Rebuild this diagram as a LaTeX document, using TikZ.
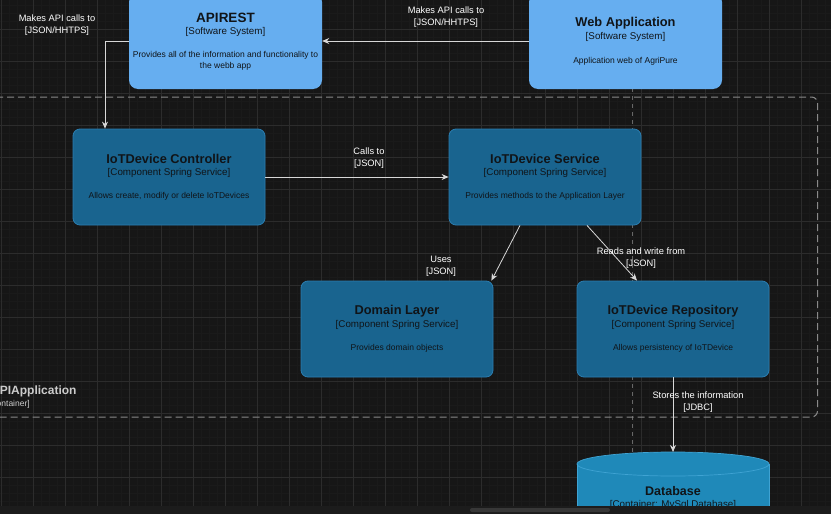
\documentclass[tikz,border=0pt]{standalone}
\usepackage{fontspec}
\setmainfont{Liberation Sans}
\usetikzlibrary{arrows.meta}
\definecolor{bgc}{HTML}{161616}
\definecolor{minorc}{HTML}{1A1A1A}
\definecolor{majorc}{HTML}{2C2C2C}
\definecolor{sysfill}{HTML}{66AEF0}
\definecolor{compfill}{HTML}{19648F}
\definecolor{compline}{HTML}{2B7DB0}
\definecolor{dbfill}{HTML}{1F89B9}
\definecolor{dbline}{HTML}{3FA3D3}
\definecolor{arrc}{HTML}{D8D8D8}
\definecolor{bndc}{HTML}{8A8A8A}
\definecolor{txtdark}{HTML}{101418}
\definecolor{barc}{HTML}{1C1C1C}
\definecolor{thumbc}{HTML}{373737}
\tikzset{
  sysbox/.style={fill=sysfill, rounded corners=9pt, minimum width=193pt, minimum height=96pt, inner sep=0pt},
  compbox/.style={fill=compfill, draw=compline, line width=0.8pt, rounded corners=7pt, minimum width=192pt, minimum height=96pt, inner sep=0pt},
  ttl/.style={font=\bfseries\fontsize{12.8}{14}\selectfont, text=txtdark, inner sep=0pt},
  typ/.style={font=\fontsize{9.8}{11}\selectfont, text=txtdark, inner sep=0pt},
  dsc/.style={font=\fontsize{8.5}{11}\selectfont, text=txtdark, inner sep=0pt, align=center},
  lbl/.style={font=\fontsize{9.3}{12}\selectfont, text=white, inner sep=0pt, align=center},
  conn/.style={draw=arrc, line width=0.8pt, -{Stealth[length=7pt,width=6pt]}},
}
\begin{document}
\begin{tikzpicture}[x=1pt,y=-1pt]
\useasboundingbox (0,0) rectangle (831,514);
\fill[bgc] (0,0) rectangle (831,514);
\begin{scope}
\clip (0,0) rectangle (831,506);
% grid
\foreach \x in {1.5,9.5,...,831} \draw[minorc, line width=0.6pt] (\x,0) -- (\x,506);
\foreach \y in {5,13,...,506} \draw[minorc, line width=0.6pt] (0,\y) -- (831,\y);
\foreach \x in {1.5,33.5,...,831} \draw[majorc, line width=0.8pt] (\x,0) -- (\x,506);
\foreach \y in {29,61,...,506} \draw[majorc, line width=0.8pt] (0,\y) -- (831,\y);
% page break line
\draw[bndc!70!bgc, dash pattern=on 4pt off 4pt, line width=0.6pt] (632,0) -- (632,475);
% boundary
\draw[bndc, dash pattern=on 7pt off 4pt, line width=1pt, rounded corners=6pt] (-30,97) rectangle (817.5,417);
\node[anchor=west, font=\bfseries\fontsize{12}{14}\selectfont, text=white!80!black, inner sep=0pt] (bndtitle) at (-9,391) {APIApplication};
\node[anchor=west, font=\fontsize{8.5}{10}\selectfont, text=white!80!black, inner sep=0pt] (bndtype) at (-12,404) {[Container]};
% systems
\node[sysbox] (api) at (225.5,41) {};
\node[ttl, font=\bfseries\fontsize{13.5}{15}\selectfont] (apit) at (225.5,18) {APIREST};
\node[typ] (apity) at (225.5,32) {[Software System]};
\node[dsc] (apid) at (225.5,60.5) {Provides all of the information and functionality to\\the webb app};
\node[sysbox] (web) at (625.5,41) {};
\node[ttl] (webt) at (625.5,23) {Web Application};
\node[typ] (webty) at (625.5,37) {[Software System]};
\node[dsc] (webd) at (625.5,61) {Application web of AgriPure};
% components
\node[compbox] (ctrl) at (169,177) {};
\node[ttl] (ctrlt) at (169,159) {IoTDevice Controller};
\node[typ] (ctrlty) at (169,173) {[Component Spring Service]};
\node[dsc] (ctrld) at (169,196) {Allows create, modify or delete IoTDevices};
\node[compbox] (svc) at (545,177) {};
\node[ttl] (svct) at (545,159) {IoTDevice Service};
\node[typ] (svcty) at (545,173) {[Component Spring Service]};
\node[dsc] (svcd) at (545,196) {Provides methods to the Application Layer};
\node[compbox] (dom) at (397,329) {};
\node[ttl] (domt) at (397,311) {Domain Layer};
\node[typ] (domty) at (397,325) {[Component Spring Service]};
\node[dsc] (domd) at (397,348) {Provides domain objects};
\node[compbox] (repo) at (673,329) {};
\node[ttl] (repot) at (673,311) {IoTDevice Repository};
\node[typ] (repoty) at (673,325) {[Component Spring Service]};
\node[dsc] (repod) at (673,348) {Allows persistency of IoTDevice};
% database
\coordinate (dbtop) at (673,452);
\fill[dbfill] (577,464) rectangle (769,520);
\fill[dbfill] (673,464) ellipse [x radius=96pt, y radius=12pt];
\draw[dbline, line width=0.7pt] (673,464) ellipse [x radius=96pt, y radius=12pt];
\draw[dbline, line width=0.7pt] (577,464) -- (577,520) (769,464) -- (769,520);
\node[ttl, font=\bfseries\fontsize{12.5}{14}\selectfont] (dbt) at (673,491) {Database};
\node[typ] (dbty) at (673,505) {[Container: MySql Database]};
% connectors
\draw[conn] (web.west) -- (api.east);
\node[lbl] (l1) at (446,17) {Makes API calls to\\{}[JSON/HHTPS]};
\draw[conn] (api.west) -| ([xshift=-64pt]ctrl.north);
\node[lbl] (l2) at (57,25) {Makes API calls to\\{}[JSON/HHTPS]};
\draw[conn] (ctrl.east) -- (svc.west);
\node[lbl] (l3) at (369,158) {Calls to\\{}[JSON]};
\draw[conn] ([xshift=-25pt]svc.south) -- ([xshift=-2pt]dom.north east);
\node[lbl] (l4) at (441,266) {Uses\\{}[JSON]};
\draw[conn] ([xshift=42pt]svc.south) -- ([xshift=-36pt]repo.north);
\node[lbl] (l5) at (641,258) {Reads and write from\\{}[JSON]};
\draw[conn] (repo.south) -- (dbtop);
\node[lbl] (l6) at (698,402) {Stores the information\\{}[JDBC]};
\end{scope}
% bottom bar
\fill[barc] (0,506) rectangle (831,514);
\fill[thumbc, rounded corners=2pt] (470,508) rectangle (610,512);
\end{tikzpicture}
\end{document}
